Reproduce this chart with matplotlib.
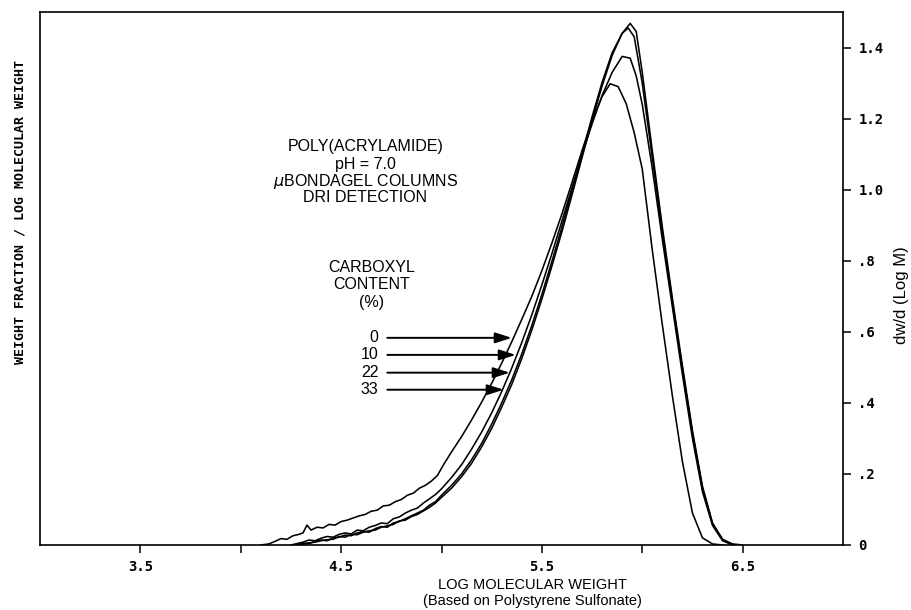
import matplotlib
matplotlib.use("Agg")
import matplotlib.pyplot as plt

# ---- data ----
x_c0 = [4.10, 4.14, 4.17, 4.20, 4.23, 4.26, 4.29, 4.31, 4.33, 4.35, 4.38, 4.41, 4.44, 4.47, 4.50,
        4.53, 4.56, 4.59, 4.62, 4.65, 4.68, 4.71, 4.74, 4.77, 4.80, 4.83, 4.86, 4.89, 4.92, 4.95,
        4.98, 5.01, 5.05, 5.10, 5.15, 5.20, 5.25, 5.30, 5.35, 5.40,
        5.45, 5.50, 5.55, 5.60, 5.65, 5.70, 5.75, 5.80, 5.84, 5.88, 5.92, 5.96, 6.00, 6.05,
        6.10, 6.15, 6.20, 6.25, 6.30, 6.35, 6.40]
y_c0 = [0.000, 0.003, 0.010, 0.018, 0.016, 0.026, 0.030, 0.034, 0.056, 0.042, 0.050, 0.048, 0.058, 0.056, 0.066,
        0.070, 0.076, 0.082, 0.086, 0.095, 0.098, 0.110, 0.112, 0.122, 0.128, 0.140, 0.146, 0.160, 0.168, 0.180,
        0.196, 0.226, 0.262, 0.305, 0.352, 0.402, 0.455, 0.512, 0.572, 0.635,
        0.700, 0.772, 0.850, 0.932, 1.020, 1.110, 1.195, 1.262, 1.298, 1.290, 1.242, 1.160, 1.058, 0.830,
        0.620, 0.420, 0.235, 0.090, 0.020, 0.003, 0.000]

x_c10 = [4.25, 4.28, 4.31, 4.34, 4.37, 4.40, 4.43, 4.46, 4.49, 4.52, 4.55, 4.58, 4.61, 4.64, 4.67,
         4.70, 4.73, 4.76, 4.79, 4.82, 4.85, 4.88, 4.91, 4.94, 4.97, 5.00, 5.05, 5.10, 5.15, 5.20,
         5.25, 5.30, 5.35, 5.40, 5.45, 5.50, 5.55, 5.60,
         5.65, 5.70, 5.75, 5.80, 5.85, 5.90, 5.94, 5.97, 6.00, 6.05, 6.10, 6.15, 6.20, 6.25,
         6.30, 6.35, 6.40, 6.45]
y_c10 = [0.000, 0.004, 0.008, 0.014, 0.012, 0.019, 0.024, 0.022, 0.030, 0.034, 0.031, 0.042, 0.040, 0.050, 0.055,
         0.062, 0.060, 0.074, 0.079, 0.090, 0.098, 0.104, 0.118, 0.130, 0.142, 0.158, 0.190, 0.226, 0.270, 0.318,
         0.372, 0.432, 0.498, 0.570, 0.648, 0.732, 0.820, 0.912,
         1.005, 1.098, 1.185, 1.265, 1.330, 1.375, 1.370, 1.320, 1.240, 1.060, 0.860, 0.670, 0.480, 0.300,
         0.150, 0.055, 0.012, 0.000]

x_c22 = [4.28, 4.31, 4.34, 4.37, 4.40, 4.43, 4.46, 4.49, 4.52, 4.55, 4.58, 4.61, 4.64, 4.67,
         4.70, 4.73, 4.76, 4.79, 4.82, 4.85, 4.88, 4.91, 4.94, 4.97, 5.00, 5.05, 5.10, 5.15, 5.20,
         5.25, 5.30, 5.35, 5.40, 5.45, 5.50, 5.55, 5.60,
         5.65, 5.70, 5.75, 5.80, 5.85, 5.90, 5.93, 5.96, 6.00, 6.05, 6.10, 6.15, 6.20, 6.25,
         6.30, 6.35, 6.40, 6.45]
y_c22 = [0.000, 0.005, 0.004, 0.010, 0.014, 0.012, 0.020, 0.022, 0.028, 0.026, 0.034, 0.038, 0.036, 0.046,
         0.052, 0.050, 0.062, 0.066, 0.074, 0.082, 0.090, 0.098, 0.112, 0.122, 0.140, 0.168, 0.200, 0.240, 0.286,
         0.340, 0.400, 0.465, 0.538, 0.618, 0.705, 0.798, 0.895,
         0.998, 1.100, 1.205, 1.302, 1.385, 1.440, 1.455, 1.430, 1.300, 1.090, 0.880, 0.685, 0.495, 0.315,
         0.160, 0.060, 0.015, 0.000]

x_c33 = [4.28, 4.31, 4.34, 4.37, 4.40, 4.43, 4.46, 4.49, 4.52, 4.55, 4.58, 4.61, 4.64, 4.67,
         4.70, 4.73, 4.76, 4.79, 4.82, 4.85, 4.88, 4.91, 4.94, 4.97, 5.00, 5.05, 5.10, 5.15, 5.20,
         5.25, 5.30, 5.35, 5.40, 5.45, 5.50, 5.55, 5.60,
         5.65, 5.70, 5.75, 5.80, 5.85, 5.90, 5.94, 5.97, 6.00, 6.05, 6.10, 6.15, 6.20, 6.25,
         6.30, 6.35, 6.40, 6.45, 6.50]
y_c33 = [0.000, 0.003, 0.006, 0.008, 0.012, 0.015, 0.016, 0.024, 0.022, 0.030, 0.029, 0.036, 0.040, 0.042,
         0.050, 0.054, 0.058, 0.068, 0.070, 0.080, 0.086, 0.096, 0.106, 0.118, 0.134, 0.160, 0.192, 0.230, 0.276,
         0.328, 0.388, 0.452, 0.525, 0.605, 0.692, 0.785, 0.882,
         0.985, 1.090, 1.195, 1.292, 1.378, 1.440, 1.468, 1.445, 1.330, 1.110, 0.895, 0.695, 0.505, 0.322,
         0.165, 0.062, 0.016, 0.003, 0.000]

carboxyl_labels = ["0", "10", "22", "33"]
arrow_y = [0.583, 0.535, 0.485, 0.437]
arrow_tip_x = [5.35, 5.37, 5.34, 5.31]

x_ticks = [3.5, 4.0, 4.5, 5.0, 5.5, 6.0, 6.5]
x_ticklabels = ["3.5", "", "4.5", "", "5.5", "", "6.5"]
y_ticks = [0, 0.2, 0.4, 0.6, 0.8, 1.0, 1.2, 1.4]
y_ticklabels = ["0", ".2", ".4", ".6", ".8", "1.0", "1.2", "1.4"]

# ---- figure ----
fig = plt.figure(figsize=(9.12, 6.10), dpi=100)
ax = fig.add_axes([40 / 912, 1 - 545 / 610, 803 / 912, 533 / 610])

for xs, ys in [(x_c0, y_c0), (x_c10, y_c10), (x_c22, y_c22), (x_c33, y_c33)]:
    ax.plot(xs, ys, color="black", lw=1.15, solid_joinstyle="round")

ax.set_xlim(3.0, 7.0)
ax.set_ylim(0, 1.5)

for s in ax.spines.values():
    s.set_linewidth(1.2)

tick_font = dict(family="DejaVu Sans Mono", weight="bold", size=10)
ax.set_xticks(x_ticks)
ax.set_xticklabels(x_ticklabels, **tick_font)
ax.tick_params(axis="x", direction="out", length=6, width=1.1, pad=5)

ax.yaxis.tick_right()
ax.set_yticks(y_ticks)
ax.set_yticklabels(y_ticklabels, **tick_font)
ax.tick_params(axis="y", direction="out", length=6, width=1.1, pad=5)

ax.yaxis.set_label_position("right")
ax.set_ylabel("dw/d (Log M)", family="Liberation Sans", size=12)
ax.yaxis.set_label_coords(1.063, (545 - 295) / 533)

fig.text(20 / 912, 1 - 212 / 610, "WEIGHT FRACTION / LOG MOLECULAR WEIGHT",
         rotation=90, ha="center", va="center", family="DejaVu Sans Mono",
         size=9.5, weight="bold")

fig.text(532 / 912, 1 - 585 / 610, "LOG MOLECULAR WEIGHT",
         ha="center", va="center", family="Liberation Sans", size=10.5)
fig.text(532 / 912, 1 - 601 / 610, "(Based on Polystyrene Sulfonate)",
         ha="center", va="center", family="Liberation Sans", size=10.5)

txt = dict(family="Liberation Sans", size=11.5, ha="center", va="center")
ax.text(4.62, 1.121, "POLY(ACRYLAMIDE)", **txt)
ax.text(4.62, 1.072, "pH = 7.0", **txt)
ax.text(4.62, 1.024, r"$\mathit{\mu}$BONDAGEL COLUMNS", **txt)
ax.text(4.62, 0.977, "DRI DETECTION", **txt)

ax.text(4.65, 0.780, "CARBOXYL", **txt)
ax.text(4.65, 0.732, "CONTENT", **txt)
ax.text(4.65, 0.682, "(%)", **txt)

for lab, yv, xt in zip(carboxyl_labels, arrow_y, arrow_tip_x):
    ax.text(4.685, yv, lab, family="Liberation Sans", size=11.5, ha="right", va="center")
    ax.annotate("", xy=(xt, yv), xytext=(4.73, yv),
                arrowprops=dict(arrowstyle="-|>,head_length=1.0,head_width=0.32",
                                color="black", lw=1.4, shrinkA=0, shrinkB=0))

fig.savefig("out.png", dpi=100)
